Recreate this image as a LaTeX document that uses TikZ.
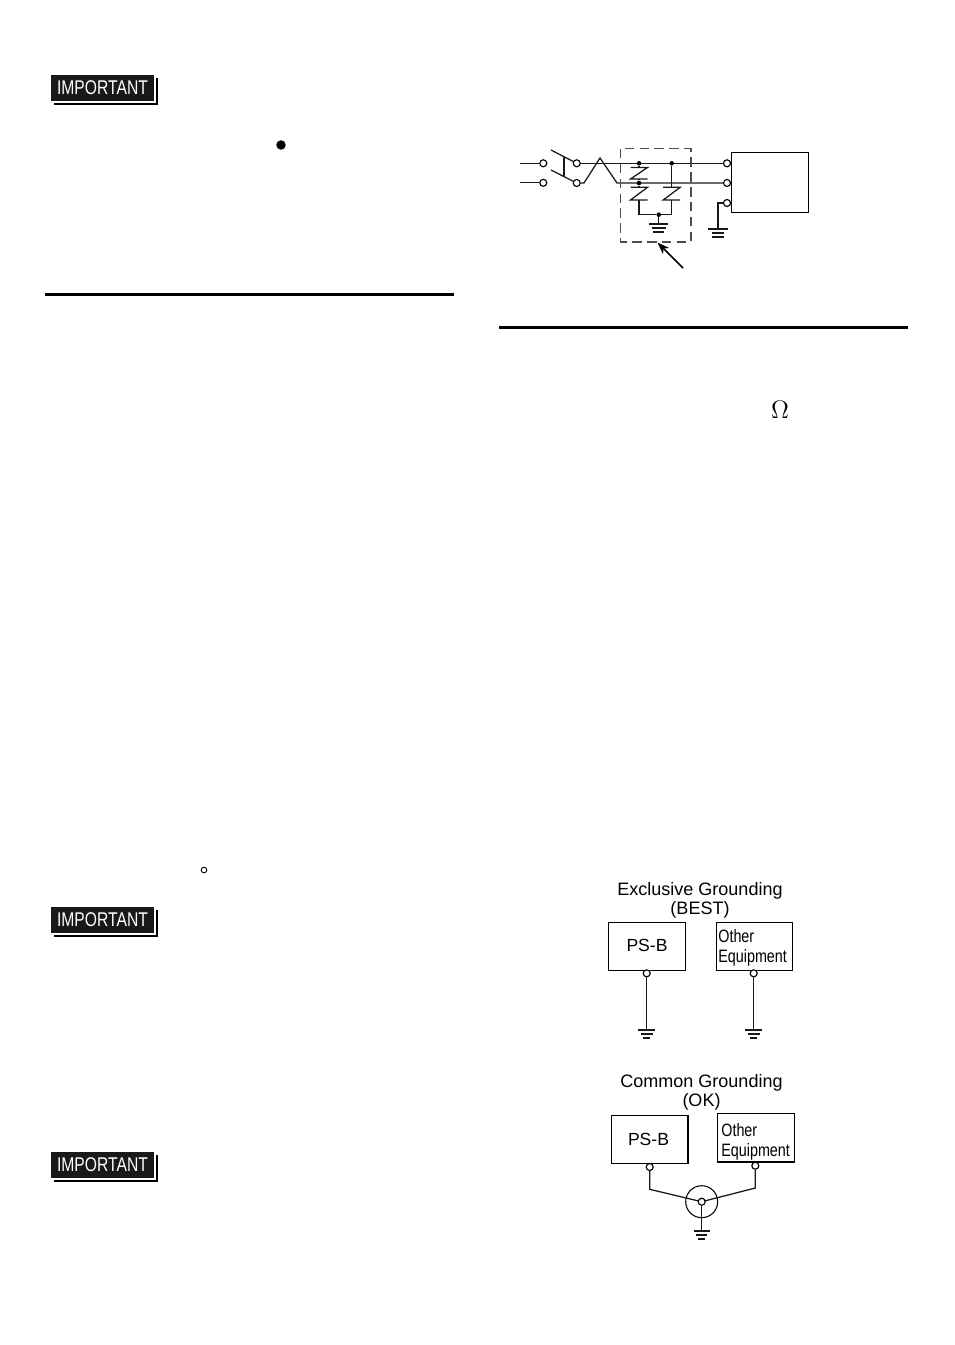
\documentclass[tikz,border=0pt]{standalone}
\usepackage{graphicx}
\usepackage{fontspec}
\setmainfont{Liberation Sans}
\colorlet{mygray}{black!70}
\tikzset{Wire/.style ={line width=0.72pt,color=black!90}}
\tikzset{Term/.style ={shape=circle,draw,line width=0.65pt,fill=white,inner sep=0pt,minimum size=4pt}}
\tikzset{Dot/.style ={shape=circle,fill=black,inner sep=0pt,minimum size=2.6pt}}
\tikzset{Unit/.style ={shape=rectangle,draw,line width=0.62pt,inner sep=0pt}}
\tikzset{Title/.style ={font=\fontsize{10.25}{10.9}\selectfont,align=center,inner sep=0pt}}
\tikzset{Badge/.style ={shape=rectangle,fill=black!90,text=white,inner sep=0pt,minimum width=59pt,minimum height=14.8pt,
  font=\fontsize{11.3}{12}\selectfont}}
\tikzset{Rule/.style ={line width=1.9pt}}
% ground symbol: three bars below the named point
\newcommand{\GroundBars}[4]{
\draw[Wire] ($(#1)+(-#2,0)$) -- ($(#1)+(#2,0)$);
\draw[Wire] ($(#1)+(-#3,4)$) -- ($(#1)+(#3,4)$);
\draw[Wire] ($(#1)+(-#4,8)$) -- ($(#1)+(#4,8)$);
}
% protector element, Z shape under the named point
\newcommand{\Varistor}[2]{
\draw[Wire] ($(#1)+(-8.5,0)$) -- ($(#1)+(8.5,0)$) -- ($(#1)+(-8.5,#2)$) -- ($(#1)+(8.5,#2)$);
}
\newcommand{\OtherText}{\scalebox{.8}[1]{\parbox{86pt}{\fontsize{10.2}{11.4}\selectfont Other\\[0pt]Equipment}}}
\usetikzlibrary{calc,arrows.meta}
\begin{document}
\begin{tikzpicture}[x=0.02cm,y=-0.02cm]
\useasboundingbox (0,0) rectangle (954,1345);
% badges on the left
\foreach \nm/\yy in {badgeA/88,badgeB/920,badgeC/1165}{
\fill (54,\yy-10) rectangle (157.5,\yy+17);
\fill[white] (49,\yy-15) rectangle (155.5,\yy+15);
\node[Badge] (\nm) at (102.5,\yy) {\scalebox{.79}[1]{IMPORTANT}};
}
\node[shape=circle,fill=black,inner sep=0pt,minimum size=5.4pt] (bullet) at (281,145) {};
\node[shape=circle,draw,line width=0.5pt,inner sep=0pt,minimum size=3.2pt] (degree) at (204,870) {};
\node[font=\fontsize{15}{16}\selectfont,inner sep=0pt] (omega) at (780,410) {$\Omega$};
% section rules
\coordinate (ruleAa) at (45,294.5);
\coordinate (ruleAb) at (453.5,294.5);
\coordinate (ruleBa) at (499,327.5);
\coordinate (ruleBb) at (907.5,327.5);
\draw[Rule] (ruleAa) -- (ruleAb);
\draw[Rule] (ruleBa) -- (ruleBb);
% line filter circuit
\node[Unit,minimum width=44pt,minimum height=34pt,anchor=north west] (psu) at (730.5,152) {};
\node[Term] (inA) at (543.3,163.3) {};
\node[Term] (inB) at (543.3,182.8) {};
\node[Term] (swA) at (576.7,163.3) {};
\node[Term] (swB) at (576.7,183) {};
\node[Term] (outA) at (727,163.3) {};
\node[Term] (outB) at (727,183) {};
\node[Term] (outC) at (727,203) {};
\coordinate (srcA) at (520,163.3);
\coordinate (srcB) at (520,182.8);
\draw[Wire] (srcA) -- (inA);
\draw[Wire] (srcB) -- (inB);
\draw[Wire] (551,150) -- (swA);
\draw[Wire] (551,170) -- (swB);
\draw[Wire] (564,156.5) -- (564,176);
\draw[Wire] (swA) -- (outA);
\draw[Wire] (swB) -- (584,183) -- (600,158) -- (617,183) -- (outB);
\draw[dashed,dash pattern=on 5.5pt off 3pt,line width=0.65pt,color=mygray] (620.7,148.7) rectangle (691,242);
\node[Dot] (tapA) at (639,163.3) {};
\node[Dot] (tapB) at (639,183) {};
\node[Dot] (tapC) at (671.7,163.3) {};
\node[Dot] (tapD) at (658.7,214.7) {};
\coordinate (varA) at (639,167.5);
\coordinate (varB) at (639,187.3);
\coordinate (varC) at (671.7,187.3);
\coordinate (footA) at (639,200);
\coordinate (footC) at (671.7,200);
\draw[Wire] (tapA) -- (varA);
\draw[Wire] (tapB) -- (varB);
\draw[Wire] (tapB) -- (639,179);
\draw[Wire] (tapC) -- (varC);
\Varistor{varA}{11.5}
\Varistor{varB}{12.7}
\Varistor{varC}{12.7}
\draw[Wire] (footA) |- (tapD);
\draw[Wire] (footC) |- (tapD);
\coordinate (gndA) at (658.7,224);
\draw[Wire] (tapD) -- (gndA);
\GroundBars{gndA}{9.5}{7}{5.5}
\coordinate (gndB) at (718,229);
\draw[Wire] (outC) -| (gndB);
\GroundBars{gndB}{10}{6}{6}
\coordinate (arrowEnd) at (683,268);
\coordinate (arrowTip) at (657.5,242.5);
\draw[-{Stealth[length=7pt,width=5pt]},line width=0.9pt] (arrowEnd) -- (arrowTip);
% exclusive grounding
\node[Title] (exclTitle) at (700,900) {Exclusive Grounding\\(BEST)};
\node[Unit,minimum width=43.5pt,minimum height=27.4pt,anchor=north west] (psbA) at (608.3,921.7) {};
\node[font=\fontsize{10}{11}\selectfont,inner sep=0pt] (psbAtxt) at (647,945) {PS-B};
\node[Unit,minimum width=43.3pt,minimum height=27.4pt,anchor=north west] (otherA) at (716,921.7) {};
\node[inner sep=0pt,anchor=north west] (otherAtxt) at (718,929) {\OtherText};
\node[Term] (termA) at (646.7,973.3) {};
\node[Term] (termB) at (753.7,973.3) {};
\coordinate (gndC) at (646.7,1030);
\coordinate (gndD) at (753.7,1030);
\draw[Wire] (termA) -- (gndC);
\draw[Wire] (termB) -- (gndD);
\GroundBars{gndC}{8.5}{6}{3.5}
\GroundBars{gndD}{8.5}{6}{3.5}
% common grounding
\node[Title] (commTitle) at (701.5,1092.5) {Common Grounding\\(OK)};
\node[Unit,minimum width=43.5pt,minimum height=27.4pt,anchor=north west] (psbB) at (611,1115) {};
\node[font=\fontsize{10}{11}\selectfont,inner sep=0pt] (psbBtxt) at (648.5,1139) {PS-B};
\node[Unit,minimum width=43.7pt,minimum height=27.4pt,anchor=north west] (otherB) at (717.3,1113.3) {};
\node[inner sep=0pt,anchor=north west] (otherBtxt) at (721,1123) {\OtherText};
\node[Term] (termC) at (649.7,1167) {};
\node[Term] (termD) at (755.3,1165.7) {};
\node[shape=circle,draw,line width=0.6pt,inner sep=0pt,minimum size=18.2pt] (hub) at (701.7,1201.7) {};
\draw[Wire] (termC) -- (649.7,1189.3) -- (hub.center);
\draw[Wire] (termD) -- (755.3,1188) -- (hub.center);
\coordinate (gndE) at (701.7,1231);
\draw[Wire] (hub.center) -- (gndE);
\GroundBars{gndE}{8}{5.5}{3.5}
\node[Term] (hubTerm) at (701.7,1201.7) {};
\end{tikzpicture}
\end{document}
